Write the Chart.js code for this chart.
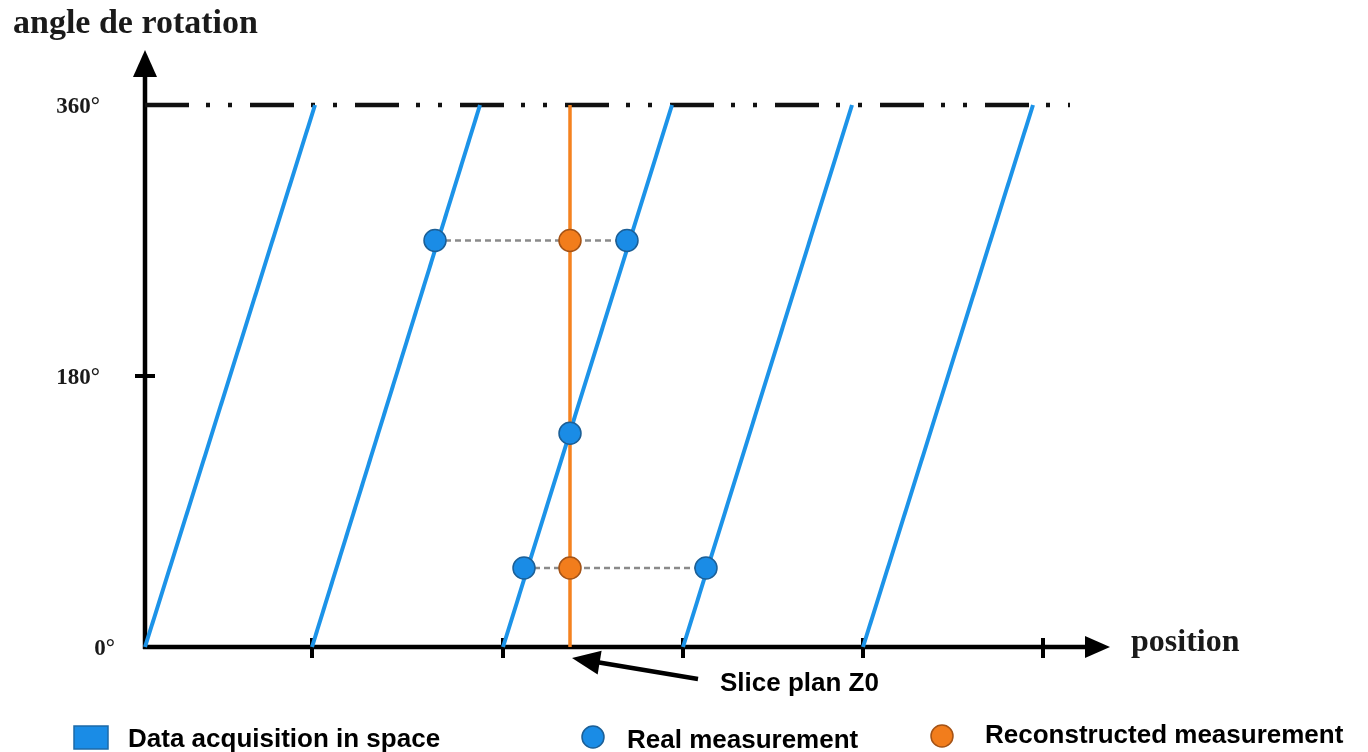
<!DOCTYPE html>
<html>
<head>
<meta charset="utf-8">
<title>angle de rotation</title>
<script src="https://cdn.jsdelivr.net/npm/chart.js@4.4.1/dist/chart.umd.min.js"></script>
<style>
  html, body { margin: 0; padding: 0; background: #fff; }
  canvas { display: block; }
</style>
</head>
<body>
<canvas id="chart" width="1368" height="752"></canvas>
<script>
// Data (position in arbitrary units, angle in degrees)
const lineStarts = [0, 16.7, 35.8, 53.8, 71.8];
const lineEnds = [17.0, 33.5, 52.7, 70.7, 88.8];
const angleRange = [0, 360];
const slicePos = 42.5;
const realX = [29.0, 48.2, 42.5, 37.9, 56.1];
const realY = [270, 270, 142, 52.5, 52.5];
const reconX = [42.5, 42.5];
const reconY = [270, 52.5];
const interpRows = [
  { y: 270, from: 29.0, to: 48.2 },
  { y: 52.5, from: 37.9, to: 56.1 }
];
const positionTicks = [16.7, 35.8, 53.8, 71.8, 89.8];
const angleTicks = [0, 180, 360];
const angleLabels = ['0°', '180°', '360°'];
const topLineEnd = 92.5;

const BLUE = '#1c93e8';
const ORANGE = '#f5821f';
const SERIF = '"Liberation Serif", "DejaVu Serif", serif';
const SANS = '"Liberation Sans", Arial, sans-serif';

const datasets = [];

// acquisition lines
lineStarts.forEach((x0, i) => {
  datasets.push({
    type: 'line',
    data: [{ x: x0, y: angleRange[0] }, { x: lineEnds[i], y: angleRange[1] }],
    borderColor: BLUE,
    borderWidth: 4,
    pointRadius: 0,
    order: 5
  });
});

// slice plane
datasets.push({
  type: 'line',
  data: [{ x: slicePos, y: angleRange[0] }, { x: slicePos, y: angleRange[1] }],
  borderColor: ORANGE,
  borderWidth: 3.5,
  pointRadius: 0,
  order: 4
});

// 360 dash-dot-dot line
datasets.push({
  type: 'line',
  data: [{ x: 0, y: 360 }, { x: topLineEnd, y: 360 }],
  borderColor: '#111',
  borderWidth: 4.5,
  borderDash: [44, 17, 4, 18, 4, 18],
  borderCapStyle: 'butt',
  pointRadius: 0,
  order: 6
});

// interpolation links
interpRows.forEach(r => {
  datasets.push({
    type: 'line',
    data: [{ x: r.from, y: r.y }, { x: r.to, y: r.y }],
    borderColor: '#8a8a8a',
    borderWidth: 2.5,
    borderDash: [6, 4],
    pointRadius: 0,
    order: 3
  });
});

datasets.push({
  type: 'scatter',
  data: realX.map((x, i) => ({ x, y: realY[i] })),
  backgroundColor: '#1a8ce6',
  borderColor: '#1c5f96',
  borderWidth: 1.5,
  pointRadius: 11,
  order: 1
});

datasets.push({
  type: 'scatter',
  data: reconX.map((x, i) => ({ x, y: reconY[i] })),
  backgroundColor: '#f27d1c',
  borderColor: '#a45316',
  borderWidth: 1.5,
  pointRadius: 11,
  order: 0
});

function arrowHead(ctx, tipX, tipY, angle, len, half) {
  ctx.save();
  ctx.translate(tipX, tipY);
  ctx.rotate(angle);
  ctx.beginPath();
  ctx.moveTo(0, 0);
  ctx.lineTo(-len, -half);
  ctx.lineTo(-len, half);
  ctx.closePath();
  ctx.fill();
  ctx.restore();
}

const axesPlugin = {
  id: 'axesPlugin',
  beforeDatasetsDraw(chart) {
    const { ctx, scales: { x, y } } = chart;
    const x0 = x.getPixelForValue(0);
    const y0 = y.getPixelForValue(0);
    ctx.save();
    ctx.strokeStyle = '#000';
    ctx.fillStyle = '#000';
    ctx.lineWidth = 4.5;
    // y axis
    ctx.beginPath();
    ctx.moveTo(x0, y0 + 2);
    ctx.lineTo(x0, chart.chartArea.top + 22);
    ctx.stroke();
    arrowHead(ctx, x0, chart.chartArea.top - 5, -Math.PI / 2, 27, 12);
    // x axis
    ctx.beginPath();
    ctx.moveTo(x0 - 2, y0);
    ctx.lineTo(chart.chartArea.right - 20, y0);
    ctx.stroke();
    arrowHead(ctx, chart.chartArea.right, y0, 0, 25, 11);
    // x tick marks
    ctx.lineWidth = 4;
    positionTicks.forEach(v => {
      const px = x.getPixelForValue(v);
      ctx.beginPath();
      ctx.moveTo(px, y0 - 9);
      ctx.lineTo(px, y0 + 11);
      ctx.stroke();
    });
    // y tick mark at 180
    const py = y.getPixelForValue(180);
    ctx.beginPath();
    ctx.moveTo(x0 - 10, py);
    ctx.lineTo(x0 + 10, py);
    ctx.stroke();
    ctx.restore();
  },
  afterDraw(chart) {
    const { ctx, scales: { x, y } } = chart;
    const x0 = x.getPixelForValue(0);
    const y0 = y.getPixelForValue(0);
    ctx.save();
    ctx.fillStyle = '#1a1a1a';
    // titles
    ctx.font = 'bold 34px ' + SERIF;
    ctx.textAlign = 'left';
    ctx.textBaseline = 'alphabetic';
    ctx.fillText('angle de rotation', 13, 33);
    ctx.font = 'bold 32px ' + SERIF;
    ctx.textBaseline = 'middle';
    ctx.fillText('position', 1131, 643);
    // angle labels
    ctx.font = 'bold 23px ' + SERIF;
    ctx.textAlign = 'right';
    angleTicks.forEach((v, i) => {
      const dx = v === 0 ? -30 : -45;
      ctx.fillText(angleLabels[i], x0 + dx, y.getPixelForValue(v) + 2);
    });

    // slice plan pointer
    const sx = x.getPixelForValue(slicePos);
    ctx.fillStyle = '#000';
    ctx.strokeStyle = '#000';
    ctx.lineWidth = 4.5;
    const tipX = sx + 2, tipY = y0 + 11;
    const ang = Math.atan2(tipY - 679, tipX - 698);
    ctx.beginPath();
    ctx.moveTo(698, 679);
    ctx.lineTo(tipX - Math.cos(ang) * 20, tipY - Math.sin(ang) * 20);
    ctx.stroke();
    arrowHead(ctx, tipX, tipY, ang, 28, 12);
    ctx.font = 'bold 26px ' + SANS;
    ctx.textAlign = 'left';
    ctx.textBaseline = 'alphabetic';
    ctx.fillText('Slice plan Z0', 720, 691);

    // legend
    ctx.fillStyle = '#1a8ce6';
    ctx.strokeStyle = '#1c6aa8';
    ctx.lineWidth = 1.5;
    ctx.fillRect(74, 726, 34, 23);
    ctx.strokeRect(74, 726, 34, 23);
    ctx.beginPath();
    ctx.arc(593, 737, 11, 0, Math.PI * 2);
    ctx.fill();
    ctx.strokeStyle = '#1c5f96';
    ctx.stroke();
    ctx.fillStyle = '#f27d1c';
    ctx.strokeStyle = '#a45316';
    ctx.beginPath();
    ctx.arc(942, 736, 11, 0, Math.PI * 2);
    ctx.fill();
    ctx.stroke();
    ctx.fillStyle = '#000';
    ctx.font = 'bold 26px ' + SANS;
    ctx.fillText('Data acquisition in space', 128, 747);
    ctx.fillText('Real measurement', 627, 748);
    ctx.fillText('Reconstructed measurement', 985, 743);
    ctx.restore();
  }
};

new Chart(document.getElementById('chart'), {
  type: 'scatter',
  data: { datasets },
  options: {
    responsive: false,
    animation: false,
    devicePixelRatio: 1,
    layout: { padding: { left: 145, right: 258, top: 55, bottom: 105 } },
    scales: {
      x: { type: 'linear', min: 0, max: 96.5, display: false },
      y: { type: 'linear', min: 0, max: 393.2, display: false }
    },
    plugins: {
      legend: { display: false },
      tooltip: { enabled: false }
    },
    elements: { line: { tension: 0 } },
    datasets: { line: { clip: false }, scatter: { clip: false } }
  },
  plugins: [axesPlugin]
});
</script>
</body>
</html>
